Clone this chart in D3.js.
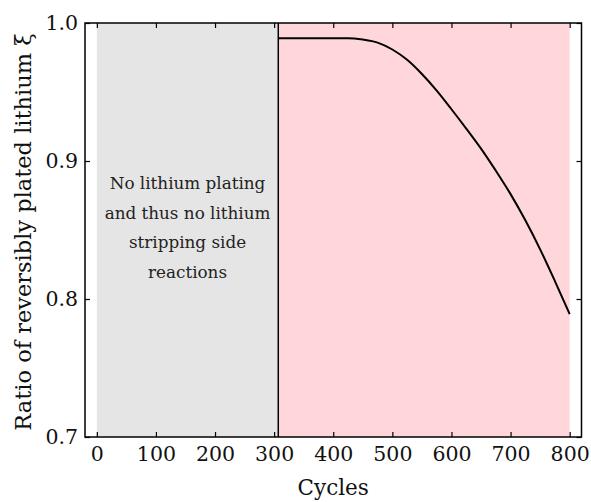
<!DOCTYPE html>
<html>
<head>
<meta charset="utf-8">
<script src="https://cdn.jsdelivr.net/npm/d3@7"></script>
<style>
  body { margin: 0; background: #fff; }
  svg text { font-family: "DejaVu Serif", serif; }
</style>
</head>
<body>
<div id="chart"></div>
<script>
'use strict'

// data
const cycles = [307, 350, 400, 425, 450, 475, 500, 525, 550, 575, 600, 625, 650, 675, 700, 725, 750, 775, 800]
const ratio  = [0.989, 0.989, 0.989, 0.989, 0.988, 0.9858, 0.9808, 0.9733, 0.963, 0.951, 0.9375, 0.9235, 0.909, 0.893, 0.876, 0.857, 0.836, 0.813, 0.789]

// shaded regions [start, end]
const noPlating = [0, 307]
const plating = [307, 800]
const noteLines = ['No lithium plating', 'and thus no lithium', 'stripping side', 'reactions']

const xTicks = [0, 100, 200, 300, 400, 500, 600, 700, 800]
const yTicks = [0.7, 0.8, 0.9, 1.0]

const svgWidth = 591, svgHeight = 502
const margin = {left: 85, right: 9.5, top: 23, bottom: 65}
const width = svgWidth - margin.left - margin.right
const height = svgHeight - margin.top - margin.bottom

const x = d3.scaleLinear().domain([-20, 820]).range([0, width])
const y = d3.scaleLinear().domain([0.7, 1.0]).range([height, 0])

const svg = d3.select('#chart')
    .append('svg')
    .attr('width', svgWidth)
    .attr('height', svgHeight)
  .append('g')
    .attr('transform', 'translate(' + margin.left + ',' + margin.top + ')')

// background regions
svg.append('rect')
    .attr('x', x(noPlating[0]))
    .attr('width', x(noPlating[1]) - x(noPlating[0]))
    .attr('y', 0)
    .attr('height', height)
    .attr('fill', '#e5e5e5')

svg.append('rect')
    .attr('x', x(plating[0]))
    .attr('width', x(plating[1]) - x(plating[0]))
    .attr('y', 0)
    .attr('height', height)
    .attr('fill', '#ffd7da')

// boundary line
svg.append('line')
    .attr('x1', x(plating[0])).attr('x2', x(plating[0]))
    .attr('y1', 0).attr('y2', height)
    .attr('stroke', '#000')
    .attr('stroke-width', 1.5)

// curve
const pts = cycles.map((c, i) => [c, ratio[i]])
svg.append('path')
    .datum(pts)
    .attr('fill', 'none')
    .attr('stroke', '#000')
    .attr('stroke-width', 2)
    .attr('d', d3.line().x(d => x(d[0])).y(d => y(d[1])).curve(d3.curveMonotoneX))

// note
const noteX = (x(noPlating[0]) + x(noPlating[1])) / 2
svg.append('text')
    .attr('text-anchor', 'middle')
    .attr('font-size', 16.8)
    .attr('fill', '#222')
  .selectAll('tspan')
    .data(noteLines)
    .join('tspan')
    .attr('x', noteX)
    .attr('y', (d, i) => 166 + i * 29.7)
    .text(d => d)

// axes, ticks pointing inward
const fmt = d3.format('.1f')
const styleAxis = g => {
    g.select('.domain').remove()
    g.selectAll('.tick line').attr('stroke', '#000').attr('stroke-width', 1.2)
    g.selectAll('.tick text').attr('font-size', 20.5).attr('fill', '#111')
}

svg.append('g')
    .attr('transform', 'translate(0,' + height + ')')
    .call(d3.axisBottom(x).tickValues(xTicks).tickSize(-5).tickPadding(9))
    .call(styleAxis)

svg.append('g')
    .call(d3.axisTop(x).tickValues(xTicks).tickSize(-5).tickFormat(''))
    .call(styleAxis)

svg.append('g')
    .call(d3.axisLeft(y).tickValues(yTicks).tickSize(-5).tickPadding(7).tickFormat(fmt))
    .call(styleAxis)

svg.append('g')
    .attr('transform', 'translate(' + width + ',0)')
    .call(d3.axisRight(y).tickValues(yTicks).tickSize(-5).tickFormat(''))
    .call(styleAxis)

// frame
svg.append('rect')
    .attr('width', width)
    .attr('height', height)
    .attr('fill', 'none')
    .attr('stroke', '#000')
    .attr('stroke-width', 1.5)

// labels
svg.append('text')
    .attr('x', width / 2)
    .attr('y', height + 58)
    .attr('text-anchor', 'middle')
    .attr('font-size', 21.5)
    .attr('fill', '#111')
    .text('Cycles')

svg.append('text')
    .attr('transform', 'translate(' + (31 - margin.left) + ',' + (height / 2 + 2) + ') rotate(-90)')
    .attr('text-anchor', 'middle')
    .attr('font-size', 22.5)
    .attr('fill', '#111')
    .text('Ratio of reversibly plated lithium ξ')
</script>
</body>
</html>
